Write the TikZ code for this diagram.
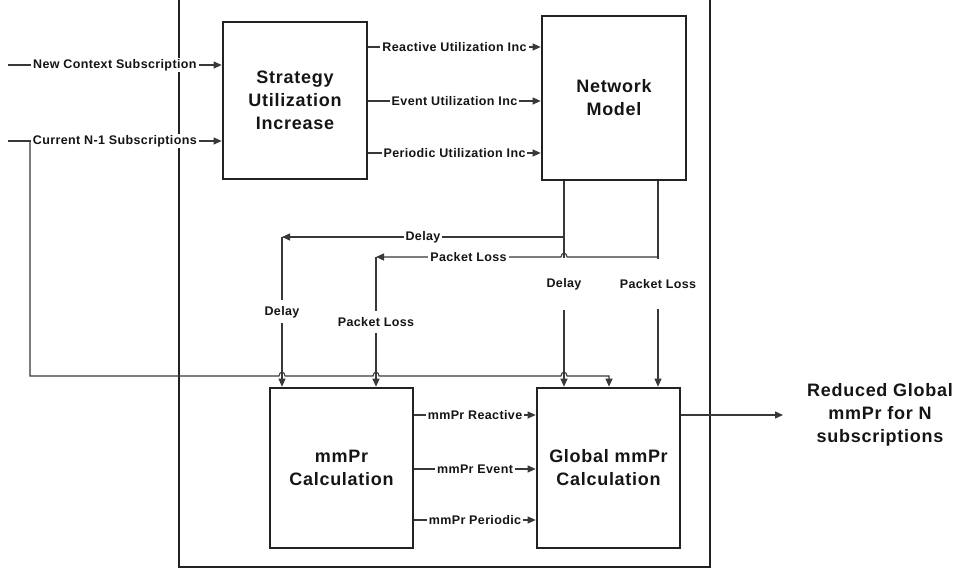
\documentclass[tikz,border=0pt]{standalone}
\usepackage{fontspec}
\setmainfont{Liberation Sans}
\usetikzlibrary{arrows.meta,calc}
\definecolor{boxc}{HTML}{222222}
\definecolor{wirec}{HTML}{383838}
\definecolor{inkc}{HTML}{151515}

\begin{document}
\begin{tikzpicture}[x=1pt,y=-1pt,
  box/.style={draw=boxc, line width=2.7pt, inner sep=0pt},
  boxtext/.style={align=center, text=inkc, font=\fontsize{18}{23}\selectfont\bfseries\addfontfeatures{LetterSpace=4}},
  wire/.style={draw=wirec, line width=1.1pt},
  tip/.style={-{Triangle[length=8pt,width=7pt]}},
  lbl/.style={fill=white, text=inkc, font=\fontsize{12.5}{14}\selectfont\bfseries\addfontfeatures{LetterSpace=3}, inner xsep=2pt, inner ysep=1pt},
  vlbl/.style={lbl, inner xsep=0pt}
]
\useasboundingbox (0,0) rectangle (956,572);

% enclosing frame (top edge sits just above the page)
\draw[boxc, line width=2.7pt] (179,-4) rectangle (710,567);

% processing blocks
\node[box, minimum width=144pt, minimum height=157pt] (sui) at (295,100.5) {};
\node[boxtext] at (sui.center) {Strategy\\Utilization\\Increase};
\node[box, minimum width=144pt, minimum height=164pt] (net) at (614,98) {};
\node[boxtext] at (net.center) {Network\\Model};
\node[box, minimum width=143pt, minimum height=160pt] (mmpr) at (341.5,468) {};
\node[boxtext] at (mmpr.center) {mmPr\\Calculation};
\node[box, minimum width=143pt, minimum height=160pt] (glob) at (608.5,468) {};
\node[boxtext] at (glob.center) {Global mmPr\\Calculation};

% helper rows and columns
\coordinate (yRe) at (0,47);
\coordinate (yEv) at (0,101);
\coordinate (yPe) at (0,153);
\coordinate (yR2) at (0,415);
\coordinate (yE2) at (0,469);
\coordinate (yP2) at (0,520);

% inputs on the left
\coordinate (srcNew) at (8,65);
\coordinate (srcCur) at (8,141);
\coordinate (tap) at (30,141);
\coordinate (feedTurn) at (609,376);
\draw[wire,tip] (srcNew) -- node[lbl]{New Context Subscription} (srcNew -| sui.west);
\draw[wire,tip] (srcCur) -- node[lbl]{Current N-1 Subscriptions} (srcCur -| sui.west);

% strategy -> network model
\draw[wire,tip] (sui.east |- yRe) -- node[lbl]{Reactive Utilization Inc} (net.west |- yRe);
\draw[wire,tip] (sui.east |- yEv) -- node[lbl]{Event Utilization Inc} (net.west |- yEv);
\draw[wire,tip] (sui.east |- yPe) -- node[lbl]{Periodic Utilization Inc} (net.west |- yPe);

% network model -> global mmPr
\coordinate (dTap) at (564,237);
\coordinate (pTap) at (658,257);
\draw[wire,tip] (net.south -| dTap) -- node[vlbl, inner ysep=20.5pt]{Delay} (glob.north -| dTap);
\draw[wire,tip] (net.south -| pTap) -- node[vlbl, inner ysep=20.5pt]{Packet Loss} (glob.north -| pTap);

% network model -> mmPr
\coordinate (dCorner) at (282,237);
\coordinate (pCorner) at (376,257);
\draw[wire,tip] (dTap) -- node[lbl]{Delay} (dCorner);
\draw[wire,tip] (dCorner) -- node[vlbl, inner ysep=5.5pt]{Delay} (dCorner |- mmpr.north);
\draw[wire,tip] (pTap) -- (567,257) .. controls (567,252) and (561,252) .. (561,257)
  -- node[lbl]{Packet Loss} (pCorner);
\draw[wire,tip] (pCorner) -- node[vlbl, inner ysep=6.5pt]{Packet Loss} (pCorner |- mmpr.north);

% current subscriptions feed to global mmPr, hopping over crossings
\draw[wire,tip] (tap) -- (30,376)
  -- (279,376) .. controls (279,371) and (285,371) .. (285,376)
  -- (373,376) .. controls (373,371) and (379,371) .. (379,376)
  -- (561,376) .. controls (561,371) and (567,371) .. (567,376)
  -- (feedTurn) -- (feedTurn |- glob.north);

% mmPr -> global mmPr
\draw[wire,tip] (mmpr.east |- yR2) -- node[lbl]{mmPr Reactive} (glob.west |- yR2);
\draw[wire,tip] (mmpr.east |- yE2) -- node[lbl]{mmPr Event} (glob.west |- yE2);
\draw[wire,tip] (mmpr.east |- yP2) -- node[lbl]{mmPr Periodic} (glob.west |- yP2);

% result
\coordinate (outEnd) at (783,415);
\draw[wire,tip] (glob.east |- yR2) -- (outEnd);
\node[boxtext] (result) at (880,415) {Reduced Global\\mmPr for N\\subscriptions};
\end{tikzpicture}
\end{document}
